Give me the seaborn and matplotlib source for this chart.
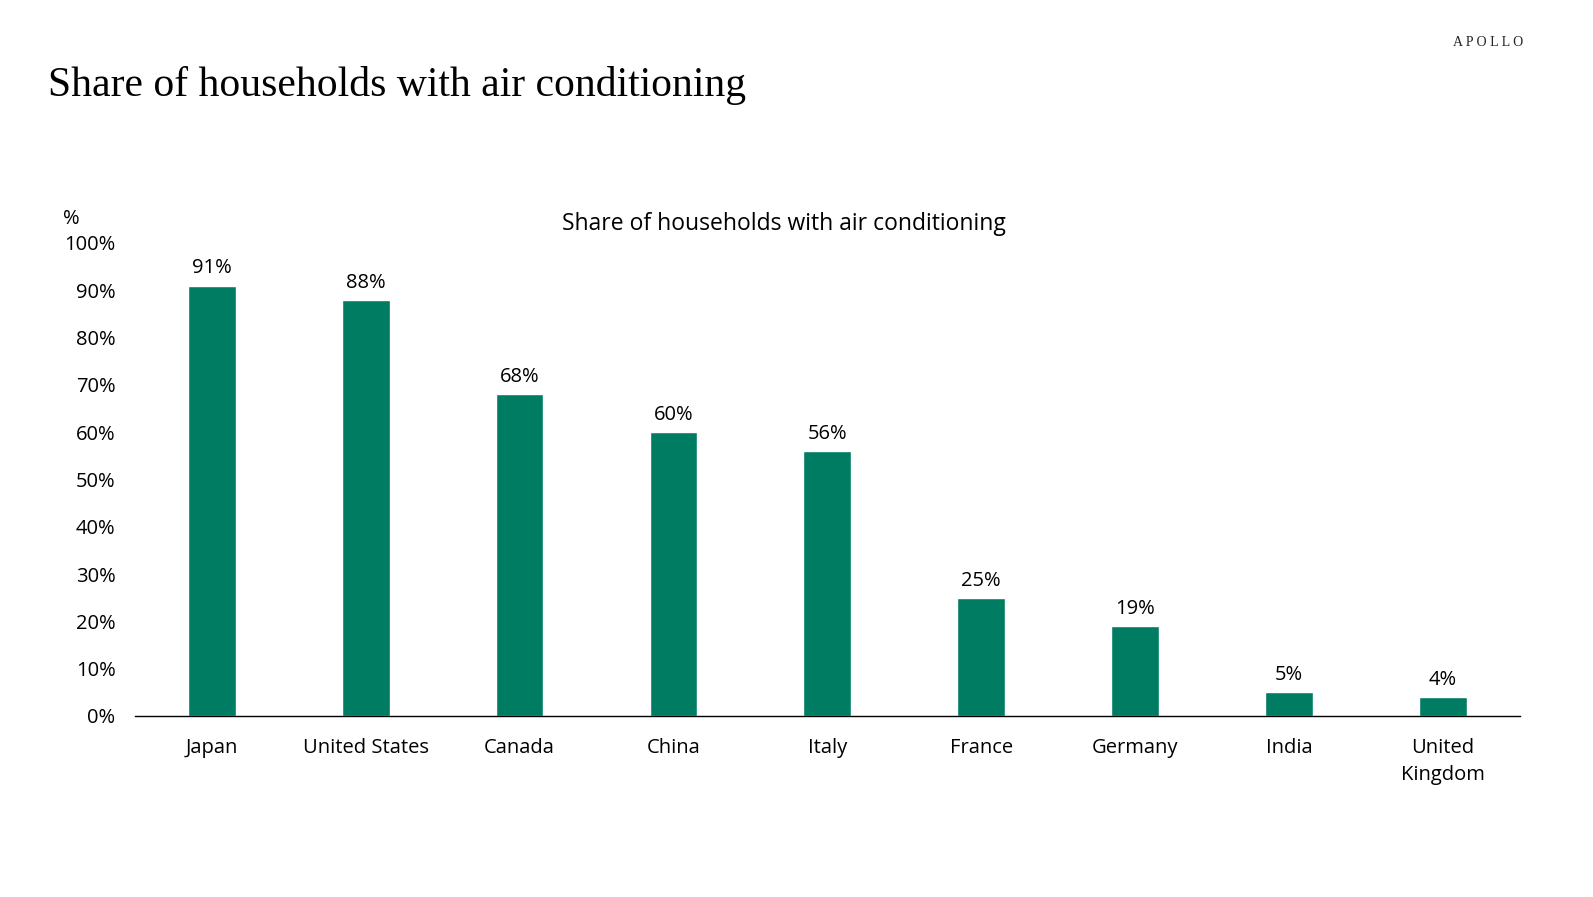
import matplotlib
matplotlib.use("Agg")
import matplotlib.pyplot as plt
import seaborn as sns
import pandas as pd

countries = ["Japan", "United States", "Canada", "China", "Italy", "France",
             "Germany", "India", "United\nKingdom"]
shares = [91, 88, 68, 60, 56, 25, 19, 5, 4]
y_ticks = [0, 10, 20, 30, 40, 50, 60, 70, 80, 90, 100]

df = pd.DataFrame({"country": countries, "share": shares})

sns.set_theme(style="white")
plt.rcParams["font.family"] = ["Open Sans", "DejaVu Sans"]

fig = plt.figure(figsize=(15.93, 8.97), dpi=100)
ax = fig.add_axes([0.0847, 0.2018, 0.8693, 0.5273])

sns.barplot(data=df, x="country", y="share", color="#007C63", width=0.31,
            saturation=1, ax=ax)

for i, v in enumerate(shares):
    ax.text(i, v + 1.5, f"{v}%", ha="center", va="bottom", fontsize=14.5,
            color="black")

ax.set_xlim(-0.5, 8.5)
ax.set_ylim(0, 100)
ax.set_yticks(y_ticks)
ax.set_yticklabels([f"{t}%" for t in y_ticks], fontsize=14.5)
ax.tick_params(axis="x", labelsize=14.5, length=0, pad=16, colors="black")
ax.tick_params(axis="y", length=0, pad=14, colors="black")
for lbl in ax.get_xticklabels():
    lbl.set_linespacing(1.45)
ax.set_xlabel("")
ax.set_ylabel("")
for s in ["top", "right", "left"]:
    ax.spines[s].set_visible(False)
ax.spines["bottom"].set_color("black")
ax.spines["bottom"].set_linewidth(1.0)

ax.text(-0.046, 1.03, "%", transform=ax.transAxes, fontsize=14.5, ha="center",
        va="bottom", color="black")
fig.text(0.492, 0.750, "Share of households with air conditioning",
         ha="center", va="center", fontsize=16.5, color="black")

fig.text(0.030, 0.905, "Share of households with air conditioning",
         ha="left", va="center", fontsize=30, family="Liberation Serif",
         color="black")
fig.text(0.956, 0.953, "A P O L L O", ha="right", va="center", fontsize=10,
         family="Liberation Serif", color="#222222")

fig.savefig("out.png", dpi=100)
